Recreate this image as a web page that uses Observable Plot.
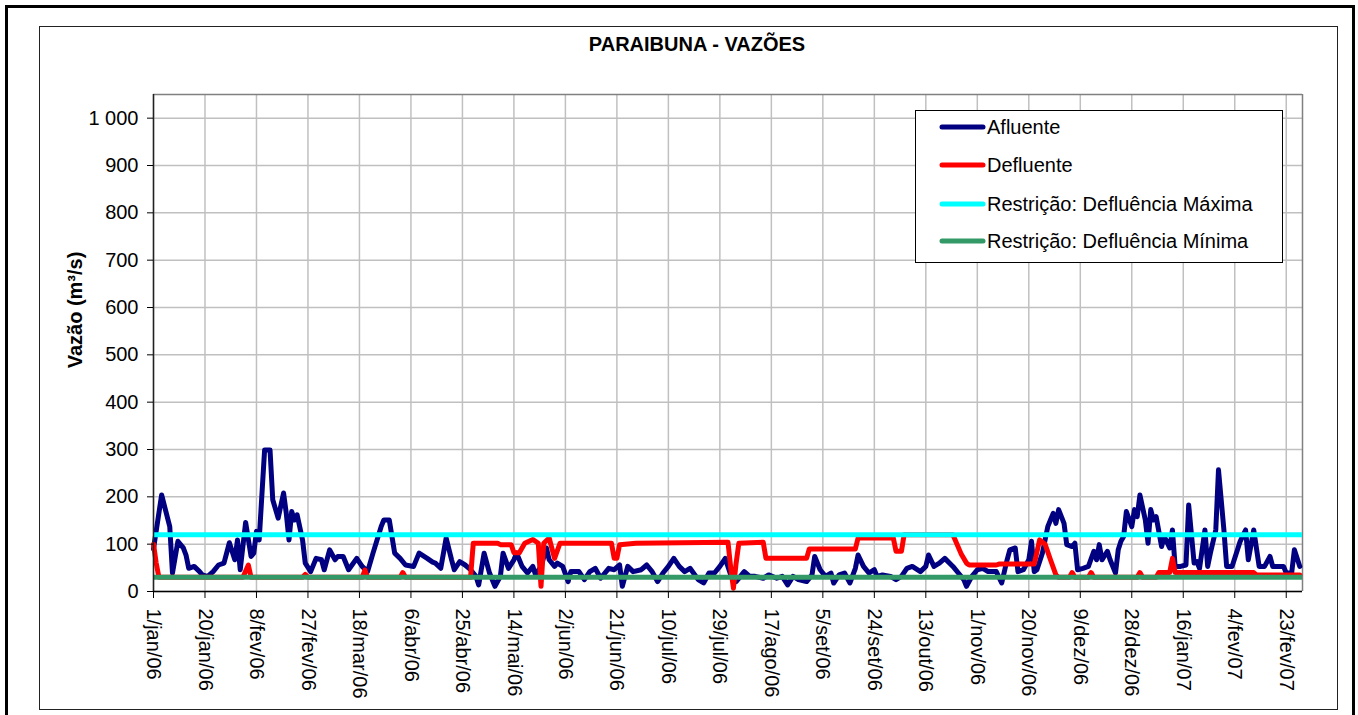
<!DOCTYPE html>
<html>
<head>
<meta charset="utf-8">
<script src="https://cdn.jsdelivr.net/npm/d3@7"></script>
<script src="https://cdn.jsdelivr.net/npm/@observablehq/plot@0.6"></script>
<style>
  body { margin: 0; background: #fff; }
  #wrap { position: relative; width: 1358px; height: 715px; overflow: hidden; background: #fff;
          font-family: 'Liberation Sans', Arial, sans-serif; color: #000; }
  #chart { position: absolute; left: 0; top: 0; }
  .abs { position: absolute; }
</style>
</head>
<body>
<div id="wrap">
  <div id="chart"></div>
  <div class="abs" style="left:5px;top:5px;width:1344px;height:730px;border:3px solid #000;"></div>
  <div class="abs" style="left:39px;top:26px;width:1297px;height:682px;border:1px solid #222;"></div>
  <div id="titulo" class="abs" style="left:497px;top:34px;width:400px;text-align:center;font-weight:bold;font-size:20px;line-height:20px;white-space:nowrap;"></div>
  <div id="ytitulo" class="abs" style="left:75px;top:310px;width:0;height:0;"></div>
  <div id="legenda" class="abs" style="left:915px;top:110px;width:366px;height:151px;border:1px solid #000;background:#fff;"></div>
</div>
<script>
// ---- Dados (dia = dias desde 1/jan/06) ----
const titulo = "PARAIBUNA - VAZÕES";
const tituloEixoY = "Vazão (m³/s)";

const afluente = [
  [0,90],[3,204],[6,137],[7,39],[9,106],[11,92],[12,77],[13,49],[15,53],[17,42],[18,35],[20,32],
  [22,42],[24,56],[26,60],[28,103],[30,67],[31,109],[32,46],[34,146],[36,74],[37,81],[38,127],[39,109],
  [41,299],[43,299],[44,194],[46,155],[48,208],[49,165],[50,109],[51,169],[52,151],[53,162],[55,109],
  [56,60],[58,42],[60,70],[62,67],[63,46],[65,88],[67,67],[68,74],[70,74],[72,46],[75,70],[77,53],
  [79,42],[81,81],[84,137],[85,151],[87,151],[89,81],[91,70],[93,56],[96,53],[98,81],[101,70],[103,62],
  [104,60],[106,49],[108,113],[110,67],[111,46],[113,63],[115,56],[117,46],[119,32],[120,14],[122,81],
  [124,39],[126,11],[128,32],[129,81],[131,49],[133,67],[134,81],[136,53],[138,39],[140,53],[141,35],
  [143,53],[145,92],[146,67],[148,53],[149,60],[151,53],[153,21],[154,42],[157,42],[159,25],[161,42],
  [163,49],[165,28],[168,49],[170,46],[172,56],[173,11],[175,53],[177,42],[180,46],[182,56],[184,42],
  [186,21],[188,39],[190,53],[192,70],[194,53],[196,42],[198,49],[201,25],[203,18],[205,39],[207,39],
  [209,53],[211,70],[213,35],[215,21],[218,42],[220,32],[222,32],[225,28],[227,35],[230,28],[232,32],
  [234,14],[236,32],[238,25],[241,21],[243,35],[244,74],[246,46],[248,32],[250,39],[251,18],[253,35],
  [255,39],[257,18],[259,49],[260,77],[262,53],[264,39],[266,46],[267,32],[269,35],[272,32],[274,25],
  [276,32],[278,49],[280,53],[283,42],[285,53],[286,77],[288,53],[290,60],[292,70],[295,53],[297,39],
  [299,25],[300,11],[302,32],[304,46],[306,49],[308,42],[311,42],[313,18],[315,67],[316,88],[318,92],
  [319,42],[321,46],[323,67],[324,106],[325,42],[326,46],[328,81],[330,137],[331,151],[332,165],[333,144],
  [334,173],[336,144],[337,99],[339,95],[340,102],[341,46],[343,49],[345,53],[347,85],[348,67],[349,99],
  [350,67],[352,85],[353,67],[355,39],[356,88],[357,106],[358,116],[359,169],[361,137],[362,173],[363,158],
  [364,204],[366,151],[367,102],[368,173],[369,151],[370,158],[372,95],[373,116],[375,92],[376,130],
  [377,53],[379,53],[381,56],[382,183],[384,60],[385,63],[386,49],[388,130],[389,53],[390,81],[392,130],
  [393,257],[395,130],[396,53],[398,53],[400,88],[401,106],[403,130],[404,67],[406,130],[408,53],[410,53],
  [412,74],[413,53],[415,53],[417,53],[418,39],[420,39],[421,88],[423,53]
];

const defluente = [
  [0,100],[1,60],[2,30],[33,30],[35,56],[36,30],[55,30],[56,36],[57,30],[77,30],[78,45],[79,30],
  [91,30],[92,40],[93,30],[117,30],[118,102],[127,102],[128,99],[132,99],[133,82],[135,82],[137,102],
  [140,110],[142,102],[143,11],[144,102],[146,113],[148,70],[150,102],[169,102],[170,70],[171,70],
  [172,99],[178,102],[212,104],[213,50],[214,7],[215,60],[216,102],[225,104],[226,70],[241,70],[242,90],
  [259,90],[260,113],[273,113],[274,85],[276,85],[277,120],[295,120],[298,80],[300,60],[301,56],[311,56],
  [312,58],[325,58],[327,109],[329,100],[331,67],[333,35],[334,30],[338,30],[339,40],[340,30],[345,30],
  [346,40],[347,30],[363,30],[364,40],[365,30],[370,30],[371,40],[375,40],[376,70],[377,40],[406,40],
  [407,35],[423,35]
];

const restricaoMaxima = 120;
const restricaoMinima = 30;

const tickDias = [0,19,38,57,76,95,114,133,152,171,190,209,228,247,266,285,304,323,342,361,380,399,418];
const tickRotulos = ["1/jan/06","20/jan/06","8/fev/06","27/fev/06","18/mar/06","6/abr/06","25/abr/06",
  "14/mai/06","2/jun/06","21/jun/06","10/jul/06","29/jul/06","17/ago/06","5/set/06","24/set/06",
  "13/out/06","1/nov/06","20/nov/06","9/dez/06","28/dez/06","16/jan/07","4/fev/07","23/fev/07"];
const yTicks = [0,100,200,300,400,500,600,700,800,900,1000];

const series = ["Afluente","Defluente","Restrição: Defluência Máxima","Restrição: Defluência Mínima"];
const cores = ["#000080","#FF0000","#00FFFF","#339966"];

// ---- Desenho ----
const inicio = Date.UTC(2006,0,1);
const dia = n => new Date(inicio + n * 864e5);
const tickDatas = tickDias.map(dia);
const rotuloPorData = new Map(tickDatas.map((d,i) => [+d, tickRotulos[i]]));
const fmtY = d => d3.format(",")(d).replace(/,/g, " ");

const chart = Plot.plot({
  width: 1358, height: 715,
  marginLeft: 153, marginRight: 56, marginTop: 94, marginBottom: 124,
  style: {fontFamily: "'Liberation Sans', Arial, sans-serif", fontSize: "20px", background: "transparent", color: "#000"},
  x: {type: "utc", domain: [dia(0), dia(424)]},
  y: {domain: [0, 1050]},
  marks: [
    Plot.gridX(tickDatas, {stroke: "#c0c0c0", strokeOpacity: 1, strokeWidth: 1.5}),
    Plot.gridY(yTicks, {stroke: "#c0c0c0", strokeOpacity: 1, strokeWidth: 1.5}),
    Plot.ruleY([1050], {stroke: "#808080", strokeWidth: 1.5}),
    Plot.ruleX([dia(424)], {stroke: "#808080", strokeWidth: 1.5}),
    Plot.line(afluente, {x: d => dia(d[0]), y: d => d[1], stroke: cores[0], strokeWidth: 5, strokeLinejoin: "round", strokeLinecap: "round"}),
    Plot.line(defluente, {x: d => dia(d[0]), y: d => d[1], stroke: cores[1], strokeWidth: 5, strokeLinejoin: "round", strokeLinecap: "round"}),
    Plot.ruleY([restricaoMaxima], {stroke: cores[2], strokeWidth: 5}),
    Plot.ruleY([restricaoMinima], {stroke: cores[3], strokeWidth: 5}),
    Plot.ruleX([dia(0)], {stroke: "#222", strokeWidth: 1.5}),
    Plot.ruleY([0], {stroke: "#000", strokeWidth: 1.5}),
    Plot.axisY(yTicks, {tickFormat: fmtY, tickSize: 6, tickPadding: 9, label: null, fontSize: 20}),
    Plot.axisX(tickDatas, {tickFormat: d => rotuloPorData.get(+d), tickRotate: 90, tickSize: 7, tickPadding: 10, label: null, fontSize: 20})
  ]
});
document.getElementById("chart").appendChild(chart);

document.getElementById("titulo").textContent = titulo;

// y title
const yt = document.getElementById("ytitulo");
const ytSpan = document.createElement("div");
ytSpan.textContent = tituloEixoY;
ytSpan.style.cssText = "position:absolute;left:0;top:0;transform:translate(-50%,-50%) rotate(-90deg);white-space:nowrap;font-weight:bold;font-size:20px;line-height:20px;";
yt.appendChild(ytSpan);

// legend
const leg = document.getElementById("legenda");
const ns = "http://www.w3.org/2000/svg";
const lsvg = document.createElementNS(ns, "svg");
lsvg.setAttribute("width", 366); lsvg.setAttribute("height", 151);
lsvg.style.position = "absolute"; lsvg.style.left = "0"; lsvg.style.top = "0";
const linhasY = [16, 54, 93, 130];
series.forEach((s, i) => {
  const l = document.createElementNS(ns, "line");
  l.setAttribute("x1", 26); l.setAttribute("x2", 67);
  l.setAttribute("y1", linhasY[i]); l.setAttribute("y2", linhasY[i]);
  l.setAttribute("stroke", cores[i]); l.setAttribute("stroke-width", 5); l.setAttribute("stroke-linecap", "round");
  lsvg.appendChild(l);
  const t = document.createElementNS(ns, "text");
  t.setAttribute("x", 71); t.setAttribute("y", linhasY[i] + 7);
  t.setAttribute("font-size", 20);
  t.setAttribute("font-family", "'Liberation Sans', Arial, sans-serif");
  t.textContent = s;
  lsvg.appendChild(t);
});
leg.appendChild(lsvg);
</script>
</body>
</html>
